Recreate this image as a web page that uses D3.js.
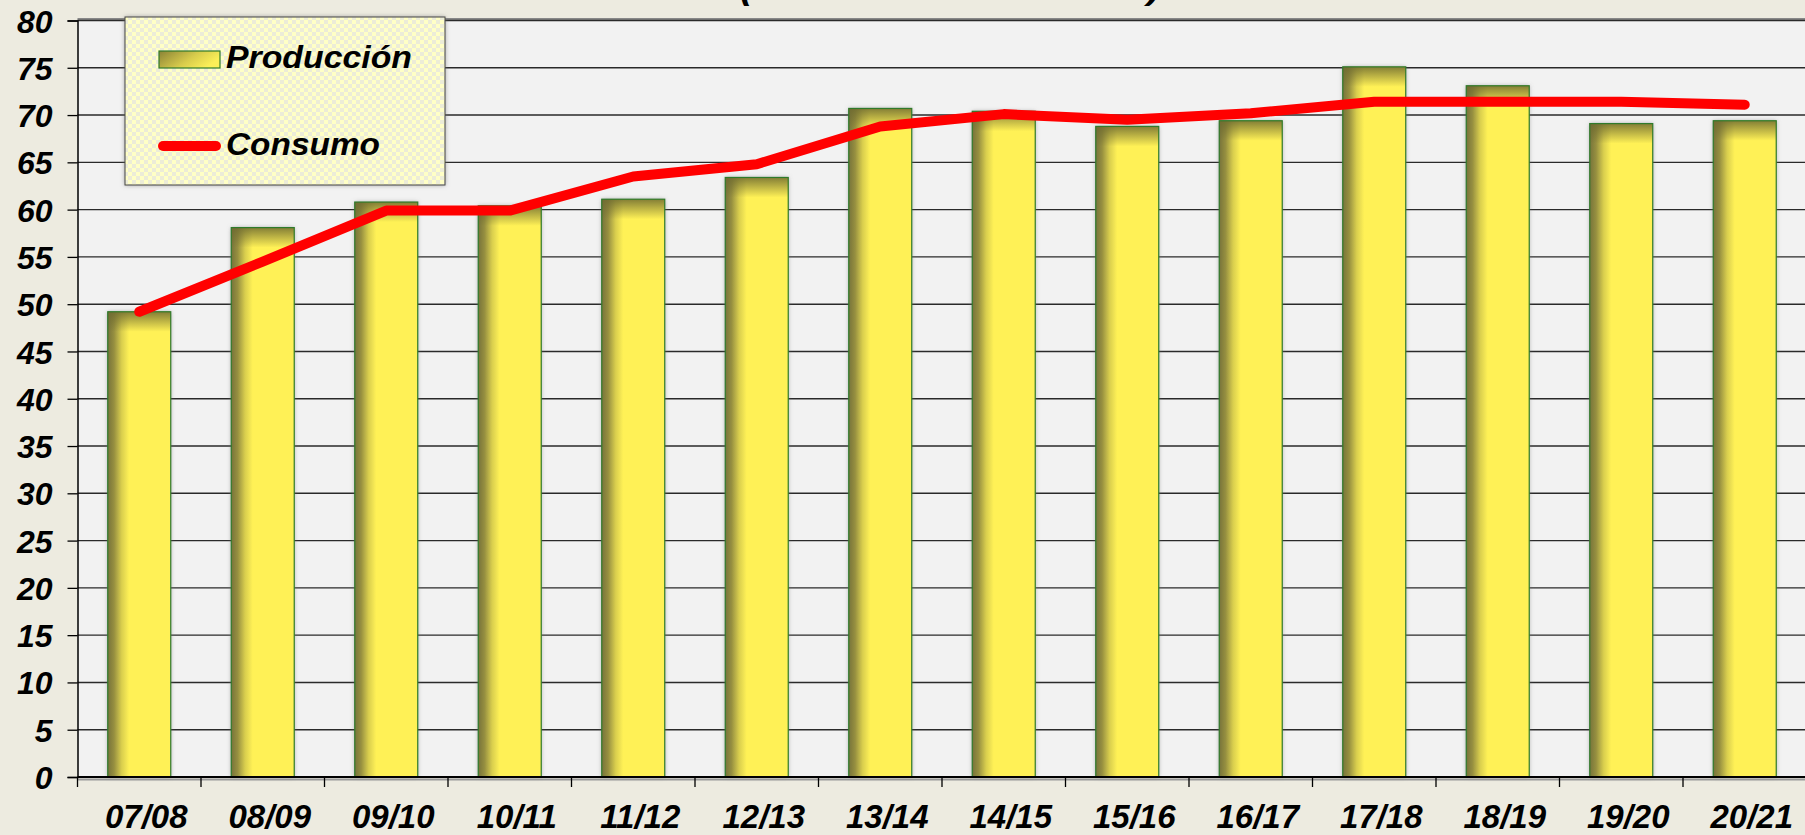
<!DOCTYPE html>
<html>
<head>
<meta charset="utf-8">
<script src="https://cdn.jsdelivr.net/npm/d3@7"></script>
<style>
  body { margin: 0; background: #EDEBE0; }
  svg { display: block; font-family: "Liberation Sans", Arial, sans-serif; }
</style>
</head>
<body>
<div id="chart"></div>
<script>
// campañas
var campaigns = ["07/08","08/09","09/10","10/11","11/12","12/13","13/14","14/15","15/16","16/17","17/18","18/19","19/20","20/21"];
var produccion = [49.2, 58.1, 60.8, 60.4, 61.1, 63.4, 70.7, 70.4, 68.8, 69.4, 75.1, 73.1, 69.1, 69.4];
var consumo = [49.2, 54.5, 59.9, 59.9, 63.5, 64.8, 68.8, 70.1, 69.5, 70.2, 71.4, 71.4, 71.4, 71.1];
var yTicks = [0,5,10,15,20,25,30,35,40,45,50,55,60,65,70,75,80];
var legendNames = ["Producción", "Consumo"];
var titleText = "(Millones de toneladas)";

var W = 1805, H = 835;
var plotLeft = 77.5, plotTop = 20.5, plotBottom = 777, step = 123.5;

var svg = d3.select("#chart").append("svg")
    .attr("width", W)
    .attr("height", H);

var defs = svg.append("defs");

// bar fill: dark olive on the left edge fading to yellow
var g1 = defs.append("linearGradient").attr("id", "barGrad")
    .attr("x1", 0).attr("x2", 1).attr("y1", 0).attr("y2", 0);
[[0, "#77733a"], [0.1, "#968f40"], [0.22, "#d9ce4e"], [0.34, "#fff156"], [1, "#fff156"]].forEach(function(s){
  g1.append("stop").attr("offset", s[0]).attr("stop-color", s[1]);
});
// darker band on bar top
var g2 = defs.append("linearGradient").attr("id", "topGrad")
    .attr("x1", 0).attr("x2", 0).attr("y1", 0).attr("y2", 1);
g2.append("stop").attr("offset", 0).attr("stop-color", "#6e6a30").attr("stop-opacity", 0.85);
g2.append("stop").attr("offset", 1).attr("stop-color", "#6e6a30").attr("stop-opacity", 0);

var g3 = defs.append("linearGradient").attr("id", "swatchGrad")
    .attr("x1", 0).attr("x2", 1).attr("y1", 0).attr("y2", 0.4);
g3.append("stop").attr("offset", 0).attr("stop-color", "#8a8236");
g3.append("stop").attr("offset", 0.6).attr("stop-color", "#d8cc4c");
g3.append("stop").attr("offset", 1).attr("stop-color", "#fbef58");

// legend checker pattern
var pat = defs.append("pattern").attr("id", "checker")
    .attr("width", 8).attr("height", 8).attr("patternUnits", "userSpaceOnUse");
pat.append("rect").attr("width", 8).attr("height", 8).attr("fill", "#ffffc6");
pat.append("rect").attr("width", 4).attr("height", 4).attr("fill", "#ececd8");
pat.append("rect").attr("x", 4).attr("y", 4).attr("width", 4).attr("height", 4).attr("fill", "#ececd8");

var sh = defs.append("filter").attr("id", "shadow")
    .attr("x", "-20%").attr("y", "-20%").attr("width", "140%").attr("height", "140%");
sh.append("feDropShadow").attr("dx", 0).attr("dy", 0).attr("stdDeviation", 2)
    .attr("flood-color", "#777").attr("flood-opacity", 0.6);

var x = d3.scaleBand()
    .domain(campaigns)
    .range([plotLeft, plotLeft + campaigns.length * step])
    .paddingInner(0.49)
    .paddingOuter(0.245);

var y = d3.scaleLinear().domain([0, 80]).range([plotBottom, plotTop]);

// title (mostly outside the picture)
svg.append("text")
    .attr("x", 950).attr("y", -1.5)
    .attr("text-anchor", "middle")
    .attr("font-size", 32).attr("font-weight", "bold").attr("font-style", "italic")
    .attr("textLength", 420).attr("lengthAdjust", "spacingAndGlyphs")
    .text(titleText);

// plot area
svg.append("rect")
    .attr("x", plotLeft).attr("y", plotTop)
    .attr("width", W - plotLeft).attr("height", plotBottom - plotTop)
    .attr("fill", "#f2f2f2");
svg.append("line")
    .attr("x1", plotLeft).attr("x2", W)
    .attr("y1", plotTop - 1).attr("y2", plotTop - 1)
    .attr("stroke", "#888").attr("stroke-width", 3);

// gridlines
svg.selectAll(".grid").data(yTicks.slice(1)).enter().append("line")
    .attr("class", "grid")
    .attr("x1", plotLeft).attr("x2", W)
    .attr("y1", function(d){ return y(d); })
    .attr("y2", function(d){ return y(d); })
    .attr("stroke", "#2a2a2a").attr("stroke-width", 1.4);

// y axis
var yAxis = svg.append("g")
    .attr("transform", "translate(" + plotLeft + ",0)")
    .call(d3.axisLeft(y).tickValues(yTicks).tickSize(10).tickPadding(10));
yAxis.select(".domain").attr("stroke", "#000").attr("stroke-width", 1.5);
yAxis.selectAll(".tick line").attr("stroke", "#000").attr("stroke-width", 1.3);
yAxis.selectAll(".tick text")
    .attr("font-size", 32).attr("font-weight", "bold").attr("font-style", "italic")
    .attr("font-family", "Liberation Sans, Arial, sans-serif")
    .attr("fill", "#000").attr("x", -25).attr("dy", "0.36em");

// bars
var bars = svg.append("g").selectAll("g").data(produccion).enter().append("g");
bars.append("rect")
    .attr("x", function(d, i){ return x(campaigns[i]); })
    .attr("y", function(d){ return y(d); })
    .attr("width", x.bandwidth())
    .attr("height", function(d){ return plotBottom - y(d); })
    .attr("fill", "url(#barGrad)")
    .attr("filter", "url(#shadow)");
bars.append("rect")
    .attr("x", function(d, i){ return x(campaigns[i]); })
    .attr("y", function(d){ return y(d); })
    .attr("width", x.bandwidth())
    .attr("height", 20)
    .attr("fill", "url(#topGrad)");
bars.append("rect")
    .attr("x", function(d, i){ return x(campaigns[i]); })
    .attr("y", function(d){ return y(d); })
    .attr("width", x.bandwidth())
    .attr("height", function(d){ return plotBottom - y(d); })
    .attr("fill", "none")
    .attr("stroke", "#2f7a2a").attr("stroke-width", 1.2);

// x axis
svg.append("line")
    .attr("x1", plotLeft).attr("x2", W)
    .attr("y1", plotBottom + 2.5).attr("y2", plotBottom + 2.5)
    .attr("stroke", "#999").attr("stroke-width", 2);
var xAxis = svg.append("g")
    .attr("transform", "translate(0," + plotBottom + ")")
    .call(d3.axisBottom(x).tickSize(0).tickPadding(0));
xAxis.select(".domain").remove();
xAxis.selectAll(".tick text")
    .attr("font-size", 33).attr("font-weight", "bold").attr("font-style", "italic")
    .attr("font-family", "Liberation Sans, Arial, sans-serif")
    .attr("fill", "#000").attr("y", 51).attr("dy", 0).attr("dx", 7);
svg.append("line")
    .attr("x1", plotLeft).attr("x2", W)
    .attr("y1", plotBottom).attr("y2", plotBottom)
    .attr("stroke", "#000").attr("stroke-width", 2);
svg.selectAll(".xtick").data(d3.range(campaigns.length + 1)).enter().append("line")
    .attr("class", "xtick")
    .attr("x1", function(i){ return x.range()[0] + i * x.step(); })
    .attr("x2", function(i){ return x.range()[0] + i * x.step(); })
    .attr("y1", plotBottom).attr("y2", plotBottom + 10)
    .attr("stroke", "#000").attr("stroke-width", 1.3);

// consumo line
var line = d3.line()
    .x(function(d, i){ return x(campaigns[i]) + x.bandwidth() / 2; })
    .y(function(d){ return y(d); });
svg.append("path")
    .datum(consumo)
    .attr("d", line)
    .attr("fill", "none")
    .attr("stroke", "#ff0000").attr("stroke-width", 10)
    .attr("stroke-linejoin", "round").attr("stroke-linecap", "round");

// legend
var lg = svg.append("g");
lg.append("rect")
    .attr("x", 125).attr("y", 17).attr("width", 320).attr("height", 168)
    .attr("fill", "url(#checker)")
    .attr("stroke", "#444").attr("stroke-width", 1)
    .attr("filter", "url(#shadow)");
lg.append("rect")
    .attr("x", 159).attr("y", 51).attr("width", 61).attr("height", 17)
    .attr("fill", "url(#swatchGrad)")
    .attr("stroke", "#2f7a2a").attr("stroke-width", 1.2);
lg.append("line")
    .attr("x1", 163).attr("x2", 216).attr("y1", 146).attr("y2", 146)
    .attr("stroke", "#ff0000").attr("stroke-width", 10).attr("stroke-linecap", "round");
lg.selectAll("text").data(legendNames).enter().append("text")
    .attr("x", 226)
    .attr("y", function(d, i){ return i === 0 ? 68 : 155; })
    .attr("font-size", 32).attr("font-weight", "bold").attr("font-style", "italic")
    .attr("textLength", function(d, i){ return i === 0 ? 186 : 154; })
    .attr("lengthAdjust", "spacingAndGlyphs")
    .attr("fill", "#000")
    .text(function(d){ return d; });
</script>
</body>
</html>
